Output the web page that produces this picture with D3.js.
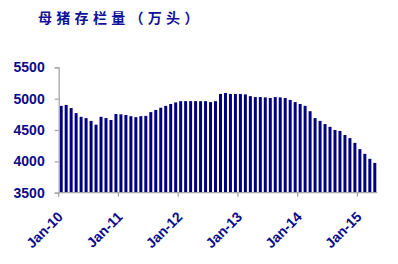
<!DOCTYPE html>
<html>
<head>
<meta charset="utf-8">
<script src="https://cdn.jsdelivr.net/npm/d3@7"></script>
<style>
  html, body { margin: 0; padding: 0; background: #ffffff; }
  svg { display: block; }
</style>
</head>
<body>
<svg id="chart" width="398" height="264"></svg>
<script>
const title = "母猪存栏量（万头）";
const categories = [
  "Jan-10","Feb-10","Mar-10","Apr-10","May-10","Jun-10","Jul-10","Aug-10","Sep-10","Oct-10","Nov-10","Dec-10",
  "Jan-11","Feb-11","Mar-11","Apr-11","May-11","Jun-11","Jul-11","Aug-11","Sep-11","Oct-11","Nov-11","Dec-11",
  "Jan-12","Feb-12","Mar-12","Apr-12","May-12","Jun-12","Jul-12","Aug-12","Sep-12","Oct-12","Nov-12","Dec-12",
  "Jan-13","Feb-13","Mar-13","Apr-13","May-13","Jun-13","Jul-13","Aug-13","Sep-13","Oct-13","Nov-13","Dec-13",
  "Jan-14","Feb-14","Mar-14","Apr-14","May-14","Jun-14","Jul-14","Aug-14","Sep-14","Oct-14","Nov-14","Dec-14",
  "Jan-15","Feb-15","Mar-15","Apr-15"
];
const sows = [
  4885, 4900, 4850, 4770, 4710, 4690, 4645, 4585, 4710, 4690, 4660, 4755,
  4750, 4740, 4720, 4705, 4720, 4725, 4785, 4820, 4855, 4885, 4915, 4940,
  4960, 4960, 4960, 4960, 4960, 4960, 4945, 4960, 5075, 5090, 5075, 5075,
  5075, 5068, 5040, 5025, 5025, 5020, 5010, 5025, 5020, 5010, 4980, 4945,
  4915, 4885, 4800, 4690, 4645, 4595, 4550, 4500, 4485, 4420, 4370, 4295,
  4195, 4120, 4040, 3975
];
const xTickLabels = ["Jan-10","Jan-11","Jan-12","Jan-13","Jan-14","Jan-15"];
const yTickValues = [3500, 4000, 4500, 5000, 5500];

const svg = d3.select("#chart");
const navy = "#000080";
const textBlue = "#0a0a8c";
const axisGray = "#a6a6a6";

const x = d3.scaleBand()
  .domain(categories)
  .range([58.7, 377.3])
  .paddingInner(0.4)
  .paddingOuter(0.2);

const y = d3.scaleLinear()
  .domain([3500, 5500])
  .range([192.7, 67.3]);

// Title
svg.append("text")
  .attr("x", 38)
  .attr("y", 23)
  .attr("fill", "#10109a")
  .attr("font-family", "'Noto Sans CJK SC', sans-serif")
  .attr("font-weight", "bold")
  .attr("font-size", 14)
  .attr("letter-spacing", 4.3)
  .text(title);

// Bars
svg.append("g")
  .selectAll("rect")
  .data(sows)
  .join("rect")
  .attr("x", (d, i) => x(categories[i]))
  .attr("width", x.bandwidth())
  .attr("y", d => y(d))
  .attr("height", d => y(3500) - y(d))
  .attr("fill", navy);

// Y axis
const yAxis = svg.append("g")
  .attr("transform", "translate(58.7,0)")
  .call(d3.axisLeft(y).tickValues(yTickValues).tickSize(4).tickPadding(10).tickFormat(d3.format("d")));
yAxis.select(".domain").attr("stroke", axisGray).attr("stroke-width", 1.3);
yAxis.selectAll(".tick line").attr("stroke", axisGray).attr("stroke-width", 1.3);
yAxis.selectAll(".tick text")
  .attr("fill", textBlue)
  .attr("font-family", "Arial, 'Liberation Sans', sans-serif")
  .attr("font-weight", "bold")
  .attr("font-size", 14);

// X axis
const shift = (x.step() - x.bandwidth()) / 2;
const xAxis = svg.append("g")
  .attr("transform", "translate(0,192.7)")
  .call(d3.axisBottom(x).tickValues(xTickLabels).tickSize(4).tickSizeOuter(0));
xAxis.select(".domain").attr("stroke", axisGray).attr("stroke-width", 1.3)
  .attr("d", `M${x.range()[0]},0H${x.range()[1]}`);
xAxis.selectAll(".tick")
  .attr("transform", d => `translate(${x(d) - shift},0)`);
xAxis.selectAll(".tick line").attr("stroke", axisGray).attr("stroke-width", 1.3);
xAxis.selectAll(".tick text")
  .attr("fill", textBlue)
  .attr("font-family", "Arial, 'Liberation Sans', sans-serif")
  .attr("font-weight", "bold")
  .attr("font-size", 14)
  .attr("text-anchor", "end")
  .attr("dy", null)
  .attr("y", null)
  .attr("transform", "translate(5,25) rotate(-45)");
</script>
</body>
</html>
